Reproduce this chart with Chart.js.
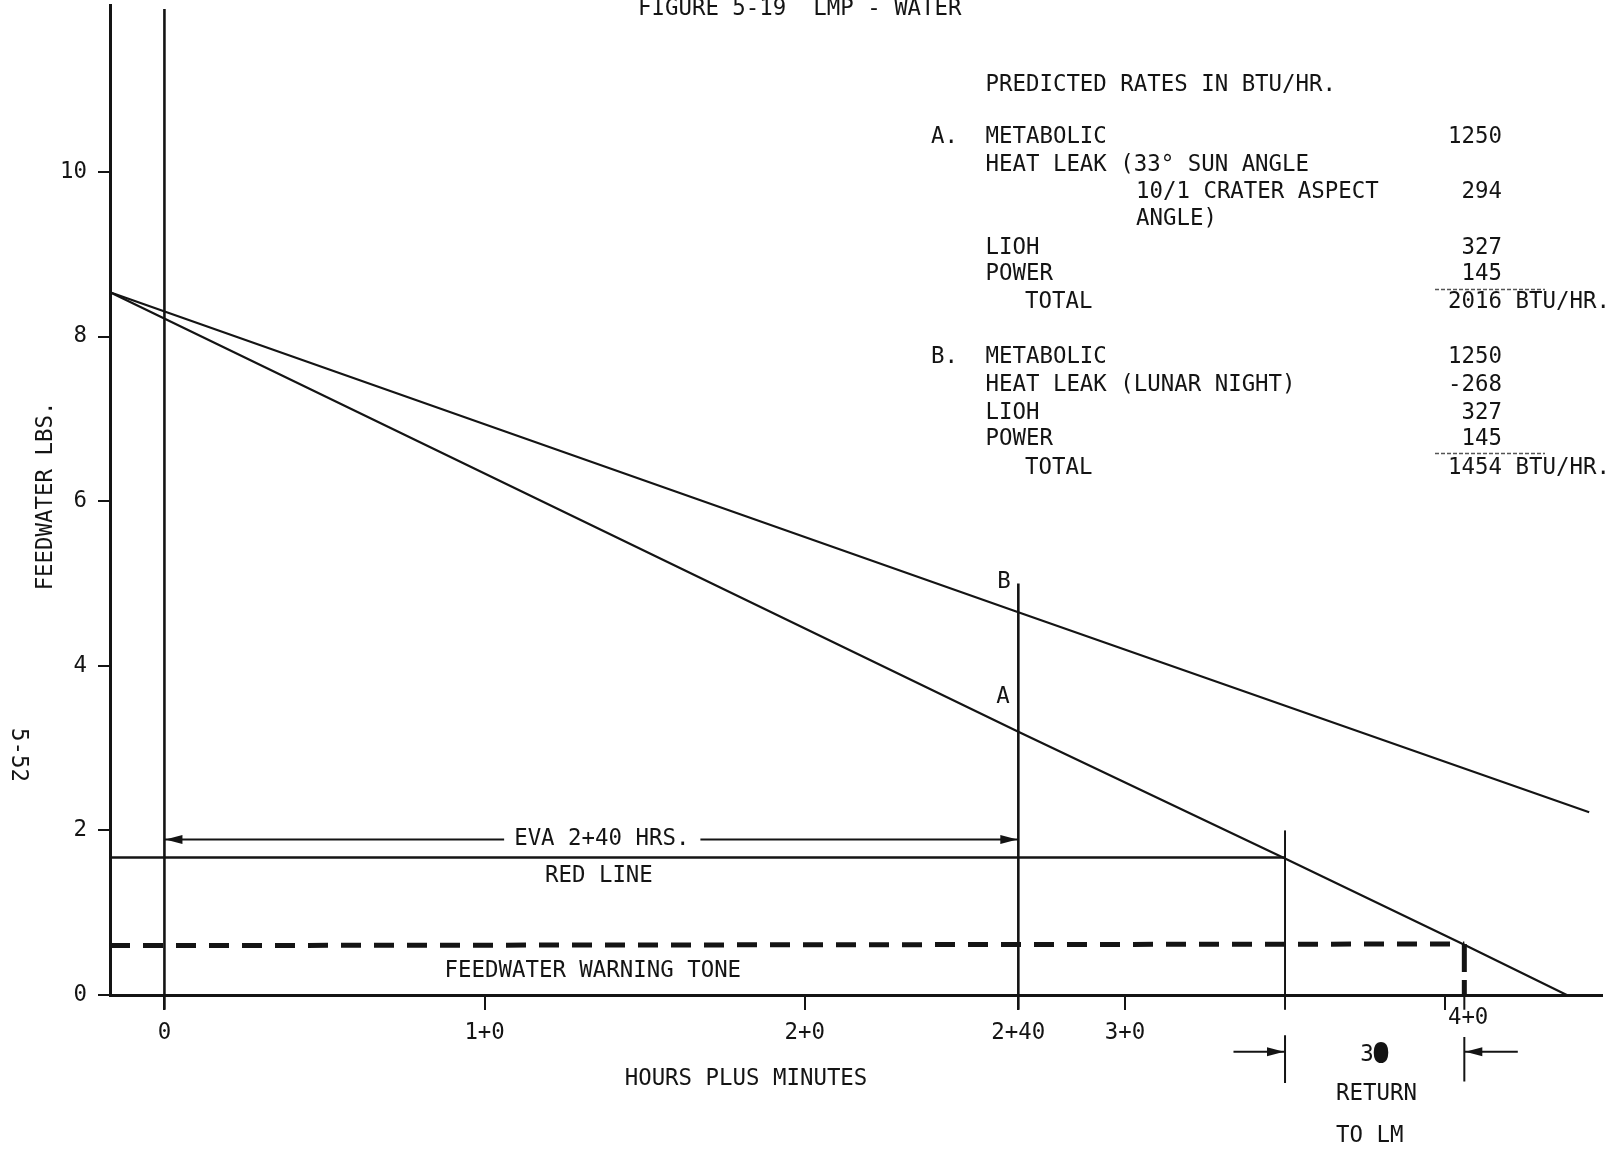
<!DOCTYPE html>
<html>
<head>
<meta charset="utf-8">
<title>Figure 5-19 LMP - Water</title>
<script src="https://cdn.jsdelivr.net/npm/chart.js@4/dist/chart.umd.min.js"></script>
<style>
  html, body { margin: 0; padding: 0; background: #ffffff; }
  #wrap { width: 1607px; height: 1150px; position: relative; }
</style>
</head>
<body>
<div id="wrap"><canvas id="c"></canvas></div>
<script>
// ---- Feedwater remaining (lbs) against elapsed EVA time (hours) ----
// Case A: sunlit crater, 2016 BTU/hr total load
const hoursA = [-0.17, 2.667, 3.5, 4.06, 4.38];
const feedA  = [8.54, 3.20, 1.66, 0.61, 0];
// Case B: lunar night, 1454 BTU/hr total load
const hoursB = [-0.17, 2.667, 4.45];
const feedB  = [8.54, 4.65, 2.22];

// Limits and event times
const redLineLbs      = 1.67;
const toneLbs         = [0.60, 0.62];   // warning tone level, left and right ends
const startHours      = -0.17;          // start of the curves (left axis)
const evaEndHours     = 2.667;          // EVA 2+40
const redLineHours    = 3.5;            // red line reached
const toneHours       = 4.06;           // warning tone reached
const evaArrowLbs     = 1.89;

// Axis ticks
const yTicks       = [0, 2, 4, 6, 8, 10];
const xTickHours   = [0, 1, 2, 2.667, 3, 4];
const xTickLabels  = ['0', '1+0', '2+0', '2+40', '3+0', '4+0'];

// Predicted rates in BTU/hr
const ratesA = ['1250', '294', '327', '145'];
const totalA = '2016';
const ratesB = ['1250', '-268', '327', '145'];
const totalB = '1454';

const INK = '#141414';
const FONT = '"DejaVu Sans Mono", "Liberation Mono", monospace';
const FS = 22.4;

function seg(xs, ys, extra) {
  return Object.assign({
    data: xs.map((x, i) => ({ x: x, y: ys[i] })),
    borderColor: INK,
    borderWidth: 2,
    pointRadius: 0,
    tension: 0,
    fill: false,
    clip: false
  }, extra || {});
}

const datasets = [
  // curves
  seg(hoursA, feedA, { borderWidth: 2.2 }),
  seg(hoursB, feedB, { borderWidth: 2.2 }),
  // red line
  seg([startHours, redLineHours], [redLineLbs, redLineLbs], { borderWidth: 2.6 }),
  // warning tone level and its drop to the time axis
  seg([startHours, toneHours], toneLbs, { borderWidth: 5, borderDash: [20, 13] }),
  seg([toneHours, toneHours], [toneLbs[1], 0], { borderWidth: 5, borderDash: [28, 8] }),
  // event verticals
  seg([0, 0], [-0.18, 11.98], { borderWidth: 2.6 }),
  seg([evaEndHours, evaEndHours], [-0.18, 5.0], { borderWidth: 2.6 }),
  seg([redLineHours, redLineHours], [-0.18, 2.0], { borderWidth: 2 }),
  seg([toneHours, toneHours], [0, -0.18], { borderWidth: 2 }),
  // dimension extension lines for the return leg
  seg([redLineHours, redLineHours], [-0.49, -1.07], { borderWidth: 2 }),
  seg([toneHours, toneHours], [-0.51, -1.05], { borderWidth: 2 }),
  // EVA span arrow, split around its label
  seg([0, 1.061], [evaArrowLbs, evaArrowLbs], { borderWidth: 2 }),
  seg([1.674, evaEndHours], [evaArrowLbs, evaArrowLbs], { borderWidth: 2 }),
  // return-leg dimension arrows
  seg([3.339, redLineHours], [-0.69, -0.69], { borderWidth: 2 }),
  seg([4.227, toneHours], [-0.69, -0.69], { borderWidth: 2 })
];

function text(ctx, s, x, y, align, baseline) {
  ctx.textAlign = align || 'left';
  ctx.textBaseline = baseline || 'middle';
  ctx.fillText(s, x, y);
}

function arrowHead(ctx, px, py, dir) {
  const len = 17, half = 4.5;
  ctx.beginPath();
  ctx.moveTo(px, py);
  ctx.lineTo(px - dir * len, py - half);
  ctx.lineTo(px - dir * len, py + half);
  ctx.closePath();
  ctx.fill();
}

const annotations = {
  id: 'annotations',
  afterDatasetsDraw(chart) {
    const ctx = chart.ctx;
    const xs = chart.scales.x, ys = chart.scales.y;
    const X = v => xs.getPixelForValue(v);
    const Y = v => ys.getPixelForValue(v);
    ctx.save();
    ctx.fillStyle = INK;
    ctx.strokeStyle = INK;
    ctx.font = FS + 'px ' + FONT;

    // arrowheads
    arrowHead(ctx, X(0) + 1, Y(evaArrowLbs), -1);
    arrowHead(ctx, X(evaEndHours) - 1, Y(evaArrowLbs), 1);
    arrowHead(ctx, X(redLineHours) - 1, Y(-0.69), 1);
    arrowHead(ctx, X(toneHours) + 1, Y(-0.69), -1);

    // in-plot labels
    text(ctx, 'EVA 2+40 HRS.', X(1.366), Y(evaArrowLbs), 'center');
    text(ctx, 'RED LINE', X(1.357), Y(1.446), 'center');
    text(ctx, 'FEEDWATER WARNING TONE', X(1.338), Y(0.284), 'center');
    text(ctx, 'B', X(2.622), Y(5.02), 'center');
    text(ctx, 'A', X(2.619), Y(3.62), 'center');

    // time axis labels
    xTickHours.forEach((h, i) => {
      if (xTickLabels[i] === '4+0') {
        text(ctx, xTickLabels[i], X(h) + 23, 1018, 'center');
      } else {
        text(ctx, xTickLabels[i], X(h), 1033, 'center');
      }
    });
    text(ctx, 'HOURS PLUS MINUTES', 746, 1079, 'center');

    // return leg annotation
    text(ctx, '3', 1367, 1055, 'center');
    ctx.lineWidth = 4;
    ctx.textAlign = 'center';
    ctx.strokeText('0', 1381, 1055);
    ctx.fillText('0', 1381, 1055);
    ctx.beginPath();
    ctx.ellipse(1381, 1055, 4.5, 8, 0, 0, Math.PI * 2);
    ctx.fill();
    text(ctx, 'RETURN', 1336, 1094, 'left');
    text(ctx, 'TO LM', 1336, 1136, 'left');

    // vertical axis title and page number
    ctx.save();
    ctx.translate(46, 496);
    ctx.rotate(-Math.PI / 2);
    text(ctx, 'FEEDWATER LBS.', 0, 0, 'center');
    ctx.restore();
    ctx.save();
    ctx.translate(18, 755);
    ctx.rotate(Math.PI / 2);
    text(ctx, '5-52', 0, 0, 'center');
    ctx.restore();

    // figure title (runs off the top edge)
    text(ctx, 'FIGURE 5-19  LMP - WATER', 638, 15, 'left', 'alphabetic');

    // predicted rates table
    const L = 985.5, N = 1502, IND = 1136, TOT = 1025, KEY = 931;
    text(ctx, 'PREDICTED RATES IN BTU/HR.', L, 85);

    text(ctx, 'A.', KEY, 137);
    text(ctx, 'METABOLIC', L, 137);
    text(ctx, ratesA[0], N, 137, 'right');
    text(ctx, 'HEAT LEAK (33° SUN ANGLE', L, 165);
    text(ctx, '10/1 CRATER ASPECT', IND, 192.5);
    text(ctx, ratesA[1], N, 192.5, 'right');
    text(ctx, 'ANGLE)', IND, 219);
    text(ctx, 'LIOH', L, 248);
    text(ctx, ratesA[2], N, 248, 'right');
    text(ctx, 'POWER', L, 274.5);
    text(ctx, ratesA[3], N, 274.5, 'right');
    text(ctx, 'TOTAL', TOT, 302);
    text(ctx, totalA, N, 302, 'right');
    text(ctx, 'BTU/HR.', N + 13.5, 302);

    text(ctx, 'B.', KEY, 357);
    text(ctx, 'METABOLIC', L, 357);
    text(ctx, ratesB[0], N, 357, 'right');
    text(ctx, 'HEAT LEAK (LUNAR NIGHT)', L, 385);
    text(ctx, ratesB[1], N, 385, 'right');
    text(ctx, 'LIOH', L, 413);
    text(ctx, ratesB[2], N, 413, 'right');
    text(ctx, 'POWER', L, 439.5);
    text(ctx, ratesB[3], N, 439.5, 'right');
    text(ctx, 'TOTAL', TOT, 468);
    text(ctx, totalB, N, 468, 'right');
    text(ctx, 'BTU/HR.', N + 13.5, 468);

    // summation rules
    ctx.lineWidth = 1.4;
    ctx.strokeStyle = '#555';
    ctx.setLineDash([4, 2]);
    [289.5, 453.5].forEach(yy => {
      ctx.beginPath();
      ctx.moveTo(1435, yy);
      ctx.lineTo(1545, yy);
      ctx.stroke();
    });
    ctx.restore();
  }
};

// keep the plot frame fixed: no extra room reserved for edge labels
function fixPadding(s) {
  s.paddingTop = 0;
  s.paddingBottom = 0;
  s.paddingLeft = 0;
  s.paddingRight = 0;
}

new Chart(document.getElementById('c'), {
  type: 'line',
  data: { datasets: datasets },
  options: {
    responsive: true,
    maintainAspectRatio: false,
    devicePixelRatio: 1,
    animation: false,
    events: [],
    layout: { padding: { left: 0, right: 5, top: 5, bottom: 0 } },
    plugins: {
      legend: { display: false },
      title: { display: false },
      tooltip: { enabled: false }
    },
    scales: {
      x: {
        type: 'linear',
        min: -0.17,
        max: 4.49,
        afterBuildTicks: s => { s.ticks = xTickHours.map(v => ({ value: v })); },
        afterFit: s => { s.height = 155; fixPadding(s); },
        ticks: { display: false },
        grid: { drawOnChartArea: false, drawTicks: true, tickLength: 15, lineWidth: 2, color: INK },
        border: { display: true, color: INK, width: 3 }
      },
      y: {
        type: 'linear',
        min: 0,
        max: 12.03,
        afterBuildTicks: s => { s.ticks = yTicks.map(v => ({ value: v })); },
        afterFit: s => { s.width = 110; fixPadding(s); },
        ticks: {
          color: INK,
          padding: 11,
          font: { family: FONT, size: FS }
        },
        grid: { drawOnChartArea: false, drawTicks: true, tickLength: 12, lineWidth: 2, color: INK },
        border: { display: true, color: INK, width: 3 }
      }
    }
  },
  plugins: [annotations]
});
</script>
</body>
</html>
